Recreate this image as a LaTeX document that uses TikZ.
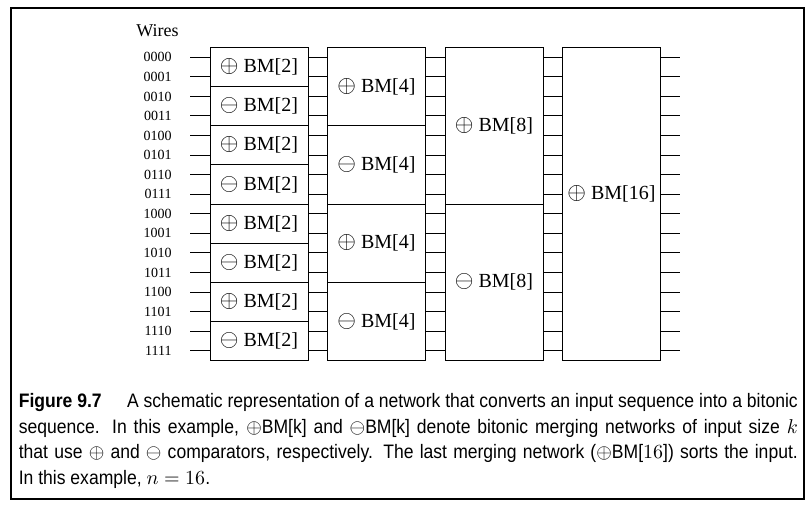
\documentclass[tikz,border=0pt]{standalone}
\usepackage{fontspec}
\setmainfont{Liberation Serif}
\newfontfamily\capfont[FakeStretch=0.9]{Liberation Sans}
\newcommand{\po}{\scalebox{1.2}{$\oplus$}}
\newcommand{\mi}{\scalebox{1.2}{$\ominus$}}

\begin{document}
\begin{tikzpicture}[x=0.5pt,y=-0.5pt,line width=0.5pt,
  bm/.style={draw,fill=white,inner sep=0,outer sep=0,minimum width=49pt},
  wire/.style={font=\fontsize{7}{8}\selectfont,inner sep=0,anchor=east}]
  \useasboundingbox (0,0) rectangle (809,511);
  \draw[line width=1pt] (11,7.5) rectangle (804,499);
  \node[anchor=base,font=\small,inner sep=0] (wires) at (157.5,36) {Wires};
  % the 16 wires
  \foreach \i/\b in {0/0000,1/0001,2/0010,3/0011,4/0100,5/0101,6/0110,7/0111,
                     8/1000,9/1001,10/1010,11/1011,12/1100,13/1101,14/1110,15/1111} {
    \node[wire] (l\i) at (172,{57.3+19.56*\i}) {\b};
    \coordinate (in\i) at (190,{57.3+19.56*\i});
    \coordinate (out\i) at (680,{57.3+19.56*\i});
    \draw (in\i) -- (out\i);
  }
  % merging networks
  \foreach \j/\s in {0/\po,1/\mi,2/\po,3/\mi,4/\po,5/\mi,6/\po,7/\mi}
    \node[bm,minimum height=19.56pt] (a\j) at (259,{57.3+19.56*(2*\j+0.5)}) {\s\ BM[2]};
  \foreach \j/\s in {0/\po,1/\mi,2/\po,3/\mi}
    \node[bm,minimum height=39.12pt] (b\j) at (376.5,{57.3+19.56*(4*\j+1.5)}) {\s\ BM[4]};
  \foreach \j/\s in {0/\po,1/\mi}
    \node[bm,minimum height=78.24pt] (c\j) at (494,{57.3+19.56*(8*\j+3.5)}) {\s\ BM[8]};
  \node[bm,minimum height=156.48pt,label={[yshift=4.89pt]center:{\po\ BM[16]}}] (d) at (611.5,204) {};
  % caption
  \node[anchor=north west,inner sep=0,text width=389.5pt,align=justify,
        font=\capfont\fontsize{9.75}{12.8}\selectfont] (cap) at (18.3,393)
    {\textbf{Figure 9.7}\hspace{1.3em}A schematic representation of a network that converts an input sequence into a bitonic\linebreak
     sequence.  In this example, $\oplus$BM[k] and $\ominus$BM[k] denote bitonic merging networks of input size $k$\linebreak
     that use $\oplus$ and $\ominus$ comparators, respectively. The last merging network ($\oplus$BM[$16$]) sorts the input.\linebreak
     In this example, $n = 16$.};
\end{tikzpicture}
\end{document}
